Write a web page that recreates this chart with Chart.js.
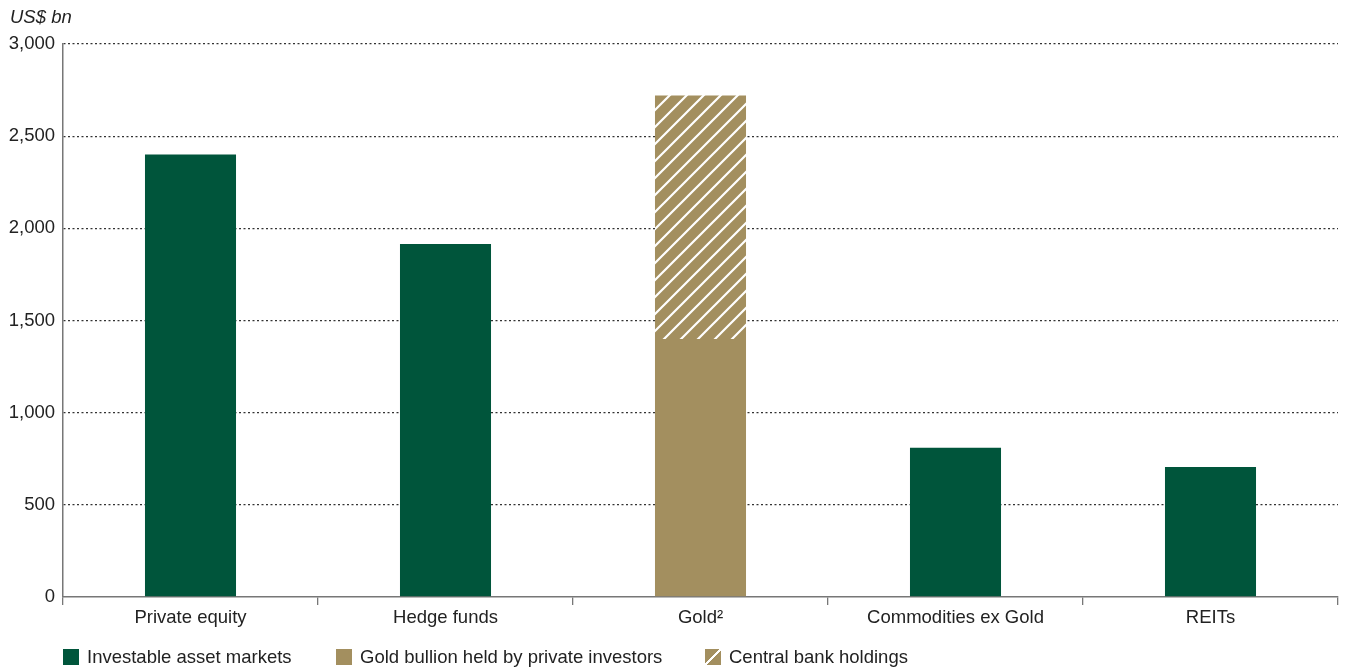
<!DOCTYPE html>
<html>
<head>
<meta charset="utf-8">
<script src="https://cdn.jsdelivr.net/npm/chart.js@4/dist/chart.umd.min.js"></script>
<style>
  html, body { margin: 0; padding: 0; background: #fff; }
  #wrap { position: relative; width: 1349px; height: 670px; font-family: "Liberation Sans", Arial, sans-serif; color: #222; }
  #unit { position: absolute; left: 10px; top: 6px; font-size: 18.5px; font-style: italic; }
  #legenda { position: absolute; left: 63px; top: 647px; font-size: 18.5px; }
  .item { position: absolute; top: 0; white-space: nowrap; }
  .caixa { position: absolute; top: 2px; width: 16px; height: 16px; }
  .item span.txt { position: absolute; left: 24px; top: 0; line-height: 20px; }
</style>
</head>
<body>
<div id="wrap">
  <canvas id="grafico" width="1349" height="670"></canvas>
  <div id="unit">US$ bn</div>
  <div id="legenda"></div>
</div>
<script>
const categorias = ['Private equity', 'Hedge funds', 'Gold²', 'Commodities ex Gold', 'REITs'];
const investaveis = [2400, 1915, null, 810, 705];
const ouroPrivado = [null, null, 1400, null, null];
const bancosCentrais = [null, null, 1320, null, null];
const ticksY = [0, 500, 1000, 1500, 2000, 2500, 3000];

const VERDE = '#00553b';
const OURO = '#a38f5f';

// listras brancas diagonais sobre o dourado
function criarHachura() {
    const s = 17;
    const c = document.createElement('canvas');
    c.width = s; c.height = s;
    const g = c.getContext('2d');
    g.fillStyle = OURO;
    g.fillRect(0, 0, s, s);
    g.strokeStyle = '#fff';
    g.lineWidth = 2.2;
    g.beginPath();
    g.moveTo(-2, s + 2); g.lineTo(s + 2, -2);
    g.moveTo(-2, 2); g.lineTo(2, -2);
    g.moveTo(s - 2, s + 2); g.lineTo(s + 2, s - 2);
    g.stroke();
    return g.createPattern(c, 'repeat');
}
const hachura = criarHachura();

const legendas = [
    { nome: 'Investable asset markets', x: 0, bg: VERDE },
    { nome: 'Gold bullion held by private investors', x: 273, bg: OURO },
    { nome: 'Central bank holdings', x: 642, bg: `linear-gradient(135deg, ${OURO} 0 44%, #fff 44% 56%, ${OURO} 56% 100%)` }
];
document.getElementById('legenda').innerHTML = legendas.map(l =>
    `<div class="item" style="left:${l.x}px"><div class="caixa" style="background:${l.bg}"></div><span class="txt">${l.nome}</span></div>`).join('');

const fonte = { family: 'Liberation Sans', size: 18.5 };

const ctx = document.getElementById('grafico').getContext('2d');
new Chart(ctx, {
    type: 'bar',
    data: {
        labels: categorias,
        datasets: [
            { label: 'Investable asset markets', data: investaveis, backgroundColor: VERDE },
            { label: 'Gold bullion held by private investors', data: ouroPrivado, backgroundColor: OURO },
            { label: 'Central bank holdings', data: bancosCentrais, backgroundColor: hachura }
        ]
    },
    options: {
        responsive: false,
        animation: false,
        devicePixelRatio: 1,
        layout: { padding: { top: 44, right: 11, bottom: 40, left: 0 } },
        datasets: { bar: { categoryPercentage: 1, barPercentage: 0.357, borderWidth: 0 } },
        plugins: { legend: { display: false }, tooltip: { enabled: false } },
        scales: {
            x: {
                stacked: true,
                afterFit: s => { s.height = 33; },
                grid: { offset: true, drawOnChartArea: false, drawTicks: true, tickLength: 8, color: '#777', lineWidth: 1.3 },
                border: { display: true, color: '#777', width: 1.5 },
                ticks: { color: '#222', font: fonte, padding: 2 }
            },
            y: {
                stacked: true,
                min: 0, max: 3000,
                afterFit: s => { s.width = 63; },
                afterBuildTicks: s => { s.ticks = ticksY.map(v => ({ value: v })); },
                grid: {
                    drawTicks: false,
                    color: c => c.tick && c.tick.value === 0 ? 'rgba(0,0,0,0)' : '#333',
                    lineWidth: 1.3
                },
                border: { display: true, color: '#777', width: 1.5, dash: [2, 2.5], dashOffset: 0 },
                ticks: {
                    color: '#222', font: fonte, padding: 8,
                    callback: v => v.toLocaleString('en-US')
                }
            }
        }
    }
});
</script>
</body>
</html>
